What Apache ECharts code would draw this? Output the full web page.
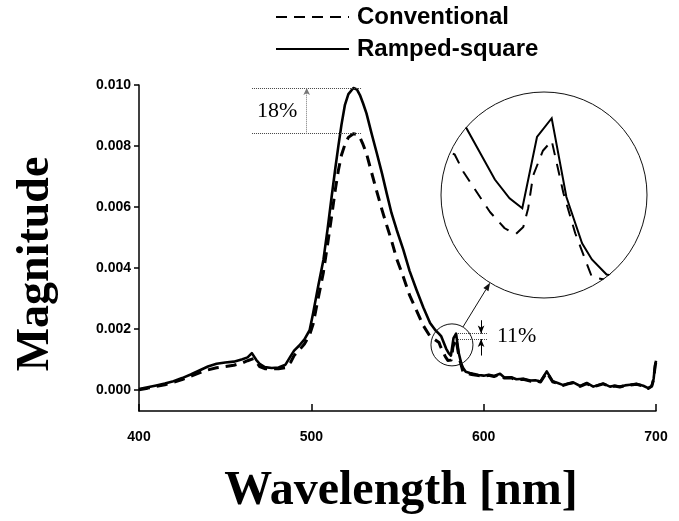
<!DOCTYPE html>
<html>
<head>
<meta charset="utf-8">
<script src="https://cdn.jsdelivr.net/npm/echarts@6/dist/echarts.min.js"></script>
<style>
  html, body { margin: 0; padding: 0; background: #fff; }
  #chart { width: 679px; height: 521px; }
</style>
</head>
<body>
<div id="chart"></div>
<script>
// Tick positions
const xTicks = [400, 500, 600, 700];
const yTicks = [0, 0.002, 0.004, 0.006, 0.008, 0.010];

// Ramped-square excitation spectrum (wavelength in nm, magnitude)
const rampedNm = [
  400, 405, 410, 415, 420, 425, 430, 435, 440, 445, 450, 455, 460, 463, 465.5, 468, 470, 473, 477, 481,
  485, 488, 490, 493, 496, 499, 501, 504, 507, 509.5, 511.8, 514, 515.7, 517.5, 519.5, 521.5, 524.4, 526.5, 528.2, 530,
  532, 535, 538, 541, 543.7, 546.5, 549.5, 553.4, 557, 561, 565, 568.9, 572, 574, 575.3, 578.2, 579.7, 581, 582.5, 584,
  585.5, 587.1, 588.1, 589.6, 592, 594, 597, 600, 603, 606, 609.5, 612, 616, 619, 623, 627, 630, 633, 636.6, 640,
  643, 646.2, 649, 652, 656, 659.8, 663.6, 667, 669.4, 673.3, 676, 679, 682, 685, 688.8, 692.6, 695.5, 697.5, 698.6, 699.5,
  700
];
const rampedMag = [
  0.00002, 0.00008, 0.00014, 0.00020, 0.00028, 0.00038, 0.00050, 0.00063, 0.00076, 0.00085, 0.00089, 0.00092, 0.00100, 0.00106, 0.00120, 0.00098, 0.00085, 0.00074, 0.00071, 0.00073,
  0.00082, 0.00110, 0.00128, 0.00145, 0.00165, 0.00195, 0.00250, 0.00340, 0.00426, 0.00530, 0.00634, 0.00730, 0.00800, 0.00870, 0.00935, 0.00970, 0.00990, 0.00985, 0.00967, 0.00940,
  0.00907, 0.00840, 0.00776, 0.00710, 0.00645, 0.00580, 0.00525, 0.00459, 0.00390, 0.00328, 0.00270, 0.00219, 0.00195, 0.00184, 0.00176, 0.00135, 0.00120, 0.00112, 0.00169, 0.00184,
  0.00121, 0.00084, 0.00071, 0.00059, 0.00055, 0.00052, 0.00048, 0.00046, 0.00049, 0.00045, 0.00052, 0.00040, 0.00041, 0.00034, 0.00036, 0.00030, 0.00031, 0.00027, 0.00060, 0.00028,
  0.00022, 0.00015, 0.00020, 0.00024, 0.00012, 0.00022, 0.00010, 0.00016, 0.00020, 0.00010, 0.00013, 0.00010, 0.00014, 0.00016, 0.00019, 0.00013, 0.00005, 0.00012, 0.00035, 0.00080,
  0.00095
];

// Conventional excitation spectrum (wavelength in nm, magnitude)
const conventionalNm = [
  400, 405, 410, 415, 420, 425, 430, 435, 440, 445, 450, 455, 460, 463, 466.5, 468, 470, 473, 477, 481,
  485, 488, 490, 493, 496, 499, 501, 504, 507, 509.5, 511.8, 514, 515.7, 517.5, 519.5, 521.5, 524.4, 526.5, 528.2, 530,
  532, 535, 538, 541, 543.7, 546.5, 549.5, 553.4, 557, 561, 565, 568.9, 572, 574.1, 575, 577.7, 579.2, 580.3, 581.1, 581.6,
  582.1, 583.1, 584, 585.2, 586.4, 588.1, 590, 593, 596, 600, 603, 606, 609.5, 612, 616, 619, 623, 627, 630, 633,
  636.6, 640, 643, 646.2, 649, 652, 656, 659.8, 663.6, 667, 669.4, 673.3, 676, 679, 682, 685, 688.8, 692.6, 695.5, 697.5,
  698.6, 699.5, 700
];
const conventionalMag = [
  0.00000, 0.00005, 0.00011, 0.00016, 0.00024, 0.00033, 0.00044, 0.00055, 0.00065, 0.00072, 0.00076, 0.00080, 0.00088, 0.00095, 0.00102, 0.00092, 0.00076, 0.00069, 0.00068, 0.00069,
  0.00072, 0.00090, 0.00112, 0.00130, 0.00150, 0.00180, 0.00215, 0.00300, 0.00385, 0.00480, 0.00570, 0.00660, 0.00720, 0.00770, 0.00805, 0.00828, 0.00840, 0.00838, 0.00828, 0.00805,
  0.00775, 0.00712, 0.00650, 0.00590, 0.00540, 0.00490, 0.00430, 0.00370, 0.00310, 0.00260, 0.00210, 0.00175, 0.00163, 0.00155, 0.00141, 0.00109, 0.00096, 0.00091, 0.00097, 0.00112,
  0.00138, 0.00158, 0.00166, 0.00124, 0.00092, 0.00057, 0.00054, 0.00050, 0.00047, 0.00044, 0.00047, 0.00043, 0.00050, 0.00038, 0.00039, 0.00032, 0.00034, 0.00028, 0.00030, 0.00025,
  0.00057, 0.00026, 0.00020, 0.00014, 0.00019, 0.00023, 0.00011, 0.00020, 0.00009, 0.00015, 0.00019, 0.00009, 0.00012, 0.00009, 0.00013, 0.00015, 0.00018, 0.00012, 0.00004, 0.00011,
  0.00033, 0.00078, 0.00093
];

const pairs = (xs, ys) => xs.map((x, i) => [x, ys[i]]);
const rampedData = pairs(rampedNm, rampedMag);
const conventionalData = pairs(conventionalNm, conventionalMag);

// Peak heights used by the percentage annotations
const maxIn = (xs, ys, lo, hi) => Math.max(...ys.filter((_, i) => xs[i] >= lo && xs[i] <= hi));
const mainPeakR = maxIn(rampedNm, rampedMag, 500, 560);
const mainPeakC = maxIn(conventionalNm, conventionalMag, 500, 560);
const sidePeakR = maxIn(rampedNm, rampedMag, 575, 595);
const sidePeakC = maxIn(conventionalNm, conventionalMag, 575, 595);

const INK = '#000';
const SANS = 'Liberation Sans, Arial, sans-serif';
const SERIF = 'Liberation Serif, Times New Roman, serif';

// Magnified view sits inside a round lens
const lens = { cx: 544, cy: 195, r: 103 };

const dotted = { type: 'dotted', color: '#444', width: 1 };
const hLine = (x0, x1, y) => [
  { coord: [x0, y], symbol: 'none', lineStyle: dotted },
  { coord: [x1, y], symbol: 'none' }
];
const arrowLine = (x, y0, y1, style, size) => [
  { coord: [x, y0], symbol: 'none', lineStyle: style },
  { coord: [x, y1], symbol: 'arrow', symbolSize: size }
];

const option = {
  animation: false,
  backgroundColor: '#fff',
  color: [INK, INK],
  legend: {
    orient: 'vertical',
    left: 270,
    top: 0,
    z: 20,
    itemWidth: 73,
    itemHeight: 14,
    itemGap: 8,
    data: ['Conventional', 'Ramped-square'],
    itemStyle: { opacity: 0 },
    textStyle: { fontFamily: SANS, fontWeight: 'bold', fontSize: 24, color: INK, padding: [0, 0, 0, 3] }
  },
  grid: [
    { left: 139, right: 23, top: 85, bottom: 110 },
    { left: 439, top: 89.5, width: 191.1, height: 210 }
  ],
  xAxis: [
    {
      type: 'value', gridIndex: 0, min: 400, max: 700, interval: 100,
      axisLine: { onZero: false, lineStyle: { color: INK, width: 1.5 } },
      axisTick: { inside: true, length: 7, lineStyle: { color: INK, width: 1.5 } },
      axisLabel: { margin: 19, fontFamily: SANS, fontWeight: 'bold', fontSize: 14, color: INK,
                   customValues: xTicks },
      splitLine: { show: false },
      name: 'Wavelength [nm]', nameLocation: 'middle', nameGap: 57,
      nameTextStyle: { fontFamily: SERIF, fontWeight: 'bold', fontSize: 48, color: INK, padding: [0, 0, 0, 7] }
    },
    { type: 'value', gridIndex: 1, min: 572.5, max: 592, show: false }
  ],
  yAxis: [
    {
      type: 'value', gridIndex: 0, min: -0.0007, max: 0.010,
      axisLine: { show: true, lineStyle: { color: INK, width: 1.5 } },
      axisTick: { show: true, inside: false, length: 5, customValues: yTicks, lineStyle: { color: INK, width: 1.5 } },
      axisLabel: { margin: 8, customValues: yTicks, formatter: v => v.toFixed(3),
                   fontFamily: SANS, fontWeight: 'bold', fontSize: 14, color: INK },
      splitLine: { show: false },
      name: 'Magnitude', nameLocation: 'middle', nameGap: 80,
      nameTextStyle: { fontFamily: SERIF, fontWeight: 'bold', fontSize: 46, color: INK, padding: [0, 32, 0, 0] }
    },
    { type: 'value', gridIndex: 1, min: 0.00039, max: 0.00207, show: false }
  ],
  series: [
    {
      name: 'Conventional', type: 'line', xAxisIndex: 0, yAxisIndex: 0,
      data: conventionalData, symbol: 'none', silent: true, z: 3,
      itemStyle: { color: INK },
      lineStyle: { color: INK, width: 3, type: [11, 7], join: 'round' }
    },
    {
      name: 'Ramped-square', type: 'line', xAxisIndex: 0, yAxisIndex: 0,
      data: rampedData, symbol: 'none', silent: true, z: 3,
      itemStyle: { color: INK },
      lineStyle: { color: INK, width: 2.6, type: 'solid', join: 'round' },
      markLine: {
        silent: true, symbol: 'none', label: { show: false },
        data: [
          hLine(465.6, 529.4, mainPeakR),
          hLine(465.6, 529.4, mainPeakC),
          arrowLine(497.3, mainPeakC, mainPeakR, { type: 'dotted', color: '#777', width: 1 }, [5, 7]),
          hLine(585.1, 602.5, sidePeakR),
          hLine(585.1, 602.5, sidePeakC),
          arrowLine(598.5, sidePeakR + 0.00054, sidePeakR, { type: 'solid', color: INK, width: 1 }, [5, 8]),
          arrowLine(598.5, sidePeakC - 0.00054, sidePeakC, { type: 'solid', color: INK, width: 1 }, [5, 8])
        ]
      }
    },
    {
      name: 'Conventional', type: 'line', xAxisIndex: 1, yAxisIndex: 1,
      data: conventionalData, symbol: 'none', silent: true, z: 1, clip: true,
      itemStyle: { color: INK },
      lineStyle: { color: INK, width: 2, type: [12, 9], join: 'round' }
    },
    {
      name: 'Ramped-square', type: 'line', xAxisIndex: 1, yAxisIndex: 1,
      data: rampedData, symbol: 'none', silent: true, z: 1, clip: true,
      itemStyle: { color: INK },
      lineStyle: { color: INK, width: 2, type: 'solid', join: 'miter' }
    }
  ]
};

const chart = echarts.init(document.getElementById('chart'), null, { renderer: 'canvas' });
chart.setOption(option);

// Lens outline, pointer and percentage labels
const px = (x, y) => chart.convertToPixel({ gridIndex: 0 }, [x, y]);
const spot = px(581.6, 0.00147);
const spotR = 21;
const dx = lens.cx - spot[0], dy = lens.cy - spot[1];
const len = Math.hypot(dx, dy), ux = dx / len, uy = dy / len;
const a0 = [spot[0] + ux * spotR, spot[1] + uy * spotR];
const a1 = [lens.cx - ux * lens.r, lens.cy - uy * lens.r];
const head = 8, half = 3;
const base = [a1[0] - ux * head, a1[1] - uy * head];
const t18 = px(468.5, (mainPeakR + mainPeakC) / 2);
const t11 = px(607.7, (sidePeakR + sidePeakC) / 2);

chart.setOption({
  graphic: [
    { type: 'ring', z: 5, silent: true,
      shape: { cx: lens.cx, cy: lens.cy, r: 140, r0: lens.r + 0.5 },
      style: { fill: '#fff' } },
    { type: 'circle', z: 6, silent: true,
      shape: { cx: lens.cx, cy: lens.cy, r: lens.r },
      style: { fill: 'none', stroke: '#111', lineWidth: 1 } },
    { type: 'circle', z: 6, silent: true,
      shape: { cx: spot[0], cy: spot[1], r: spotR },
      style: { fill: 'none', stroke: '#111', lineWidth: 1 } },
    { type: 'line', z: 7, silent: true,
      shape: { x1: a0[0], y1: a0[1], x2: base[0], y2: base[1] },
      style: { stroke: '#111', lineWidth: 1 } },
    { type: 'polygon', z: 7, silent: true,
      shape: { points: [a1, [base[0] - uy * half, base[1] + ux * half], [base[0] + uy * half, base[1] - ux * half]] },
      style: { fill: '#111' } },
    { type: 'text', z: 7, silent: true, x: t18[0], y: t18[1],
      style: { text: '18%', font: '22px ' + SERIF, fill: INK, align: 'left', verticalAlign: 'middle' } },
    { type: 'text', z: 7, silent: true, x: t11[0], y: t11[1],
      style: { text: '11%', font: '22px ' + SERIF, fill: INK, align: 'left', verticalAlign: 'middle' } }
  ]
});
</script>
</body>
</html>
